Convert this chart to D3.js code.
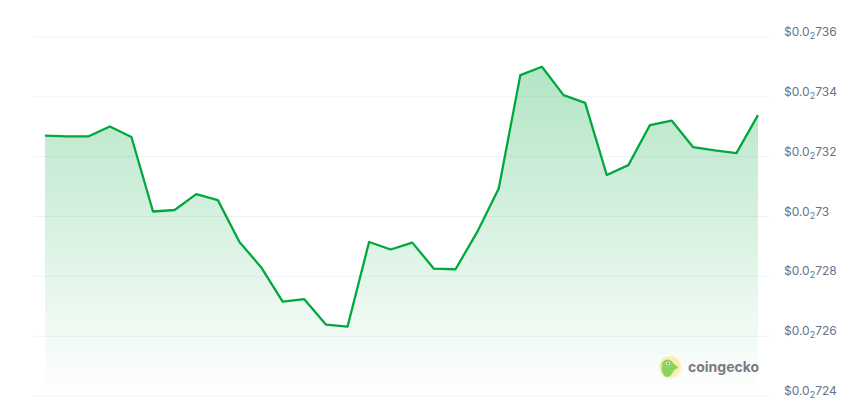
<!DOCTYPE html>
<html>
<head>
<meta charset="utf-8">
<script src="https://cdn.jsdelivr.net/npm/d3@7"></script>
<style>
    html, body { margin: 0; padding: 0; background: #fff; }
    svg { display: block; }
    .axis text { font-family: Inter, sans-serif; font-size: 12px; fill: #64748b; }
    .axis line { stroke: #eff2f5; }
    .axis path { display: none; }
</style>
</head>
<body>
<main></main>
<script>
// Data
const prices = [
    732.69, 732.66, 732.66, 732.99, 732.64, 730.15, 730.20, 730.73, 730.53, 729.13,
    728.29, 727.14, 727.22, 726.37, 726.30, 729.13, 728.88, 729.11, 728.24, 728.22,
    729.46, 730.92, 734.71, 734.99, 734.04, 733.78, 731.37, 731.70, 733.04, 733.19,
    732.30, 732.19, 732.10, 733.37
]
const priceTicks = [724, 726, 728, 730, 732, 734, 736]
const brand = 'coingecko'

function GeneratePlot() {
    // Configuration
    const width = 863
    const height = 408
    const plot = { left: 45, right: 758, top: 36.5, bottom: 395.5 }
    const gridLeft = 34
    const gridRight = 769
    const green = '#00a83e'

    const x = d3.scaleLinear()
        .domain([0, prices.length - 1])
        .range([plot.left, plot.right])
    const y = d3.scaleLinear()
        .domain([724, 736])
        .range([plot.bottom, plot.top])

    const svg = d3.select('main')
        .append('svg')
        .attr('width', width)
        .attr('height', height)

    const gradient = svg.append('defs')
        .append('linearGradient')
        .attr('id', 'fade')
        .attr('x1', 0).attr('x2', 0)
        .attr('y1', 0).attr('y2', 1)
    gradient.append('stop').attr('offset', '0%').attr('stop-color', green).attr('stop-opacity', 0.3)
    gradient.append('stop').attr('offset', '100%').attr('stop-color', green).attr('stop-opacity', 0)

    // Axis with gridlines, the 0.00 part is written with a subscript 2
    const axis = svg.append('g')
        .classed('axis', true)
        .attr('transform', `translate(${gridRight},0)`)
        .call(d3.axisRight(y)
            .tickValues(priceTicks)
            .tickSize(gridLeft - gridRight)
            .tickPadding(0)
            .tickFormat(''))

    axis.selectAll('.tick text').each(function (d) {
        const label = d3.select(this)
            .attr('x', 15)
            .attr('dy', '-0.08em')
        label.append('tspan').text('$0.0')
        label.append('tspan').attr('font-size', 9).attr('dy', 3).text('2')
        label.append('tspan').attr('dy', -3).text(d === 730 ? '73' : d)
    })

    // Area and line
    const area = d3.area()
        .x((d, i) => x(i))
        .y0(plot.bottom)
        .y1(d => y(d))
    const line = d3.line()
        .x((d, i) => x(i))
        .y(d => y(d))

    svg.append('path')
        .datum(prices)
        .attr('d', area)
        .attr('fill', 'url(#fade)')
    svg.append('path')
        .datum(prices)
        .attr('d', line)
        .attr('fill', 'none')
        .attr('stroke', green)
        .attr('stroke-width', 2.3)
        .attr('stroke-linejoin', 'round')

    // Logo
    const logo = svg.append('g')
        .attr('transform', 'translate(670,367)')
    logo.append('circle').attr('r', 11).attr('fill', '#fbeeb0')
    logo.append('path')
        .attr('d', 'M-7.5,-5 C-4,-9 1,-8 3,-4 C5,-2 8,-1 8,1 C5,2 3,4 2,7 C0,10 -3,10.5 -5,9.5 C-8.5,6 -9.5,-1 -7.5,-5 Z')
        .attr('fill', '#8dd35f')
    logo.append('circle').attr('cx', -2).attr('cy', -3.5).attr('r', 1.8).attr('fill', '#fff')
    logo.append('circle').attr('cx', -2).attr('cy', -3.5).attr('r', 0.9).attr('fill', '#58595b')
    svg.append('text')
        .attr('x', 688)
        .attr('y', 371.5)
        .attr('font-family', 'Inter, sans-serif')
        .attr('font-size', 14)
        .attr('font-weight', 700)
        .attr('fill', '#7a7a82')
        .text(brand)
}

GeneratePlot()
</script>
</body>
</html>
